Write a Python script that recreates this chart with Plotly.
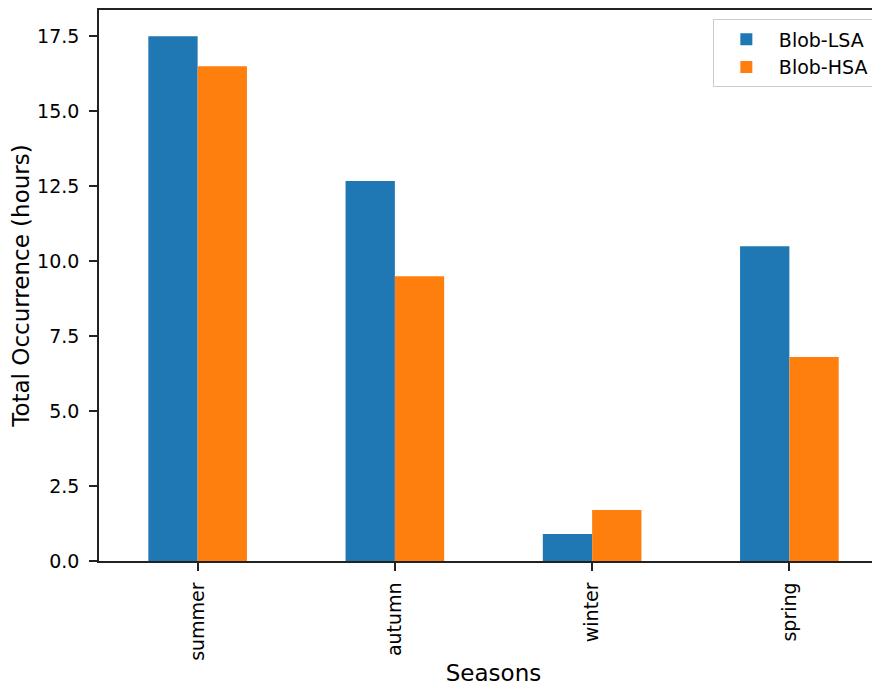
import plotly.graph_objects as go

seasons = ["summer", "autumn", "winter", "spring"]
blob_lsa = [17.5, 12.67, 0.9, 10.5]
blob_hsa = [16.5, 9.5, 1.7, 6.8]
y_ticks = [0.0, 2.5, 5.0, 7.5, 10.0, 12.5, 15.0, 17.5]
y_tick_labels = ["0.0", "2.5", "5.0", "7.5", "10.0", "12.5", "15.0", "17.5"]

FONT = "DejaVu Sans"
FS = 19
fig = go.Figure()
fig.add_trace(go.Bar(x=list(range(len(seasons))), y=blob_lsa, name="Blob-LSA", marker_color="#1f77b4", marker_line_width=0))
fig.add_trace(go.Bar(x=list(range(len(seasons))), y=blob_hsa, name="Blob-HSA", marker_color="#ff7f0e", marker_line_width=0))

fig.update_layout(
    width=880, height=678,
    margin=dict(l=91, r=0, t=2, b=125),
    barmode="group", bargap=0.5, bargroupgap=0,
    plot_bgcolor="white", paper_bgcolor="white",
    font=dict(family=FONT, size=FS, color="black"),
    showlegend=True,
    legend=dict(x=0.778, y=0.983, xanchor="left", yanchor="top",
                bordercolor="#cccccc", borderwidth=1, bgcolor="white",
                font=dict(size=FS), itemwidth=55, tracegroupgap=0),
)
fig.update_xaxes(
    tickmode="array", tickvals=list(range(len(seasons))), ticktext=seasons,
    tickangle=-90, range=[-0.5, 3.5],
    showline=True, linecolor="#222222", linewidth=1.6, mirror=True,
    ticks="outside", ticklen=8, tickcolor="#222222", tickwidth=1.6,
    ticklabelstandoff=4,
    showgrid=False, zeroline=False,
    title=dict(text="Seasons", standoff=8),
)
fig.update_yaxes(
    tickmode="array", tickvals=y_ticks, ticktext=y_tick_labels,
    range=[0, 18.375],
    showline=True, linecolor="#222222", linewidth=1.6, mirror=False,
    ticks="outside", ticklen=8, tickcolor="#222222", tickwidth=1.6,
    ticklabelstandoff=6,
    showgrid=False, zeroline=False,
    title=dict(text="Total Occurrence (hours)", standoff=12),
)
fig.write_html("out.html")
